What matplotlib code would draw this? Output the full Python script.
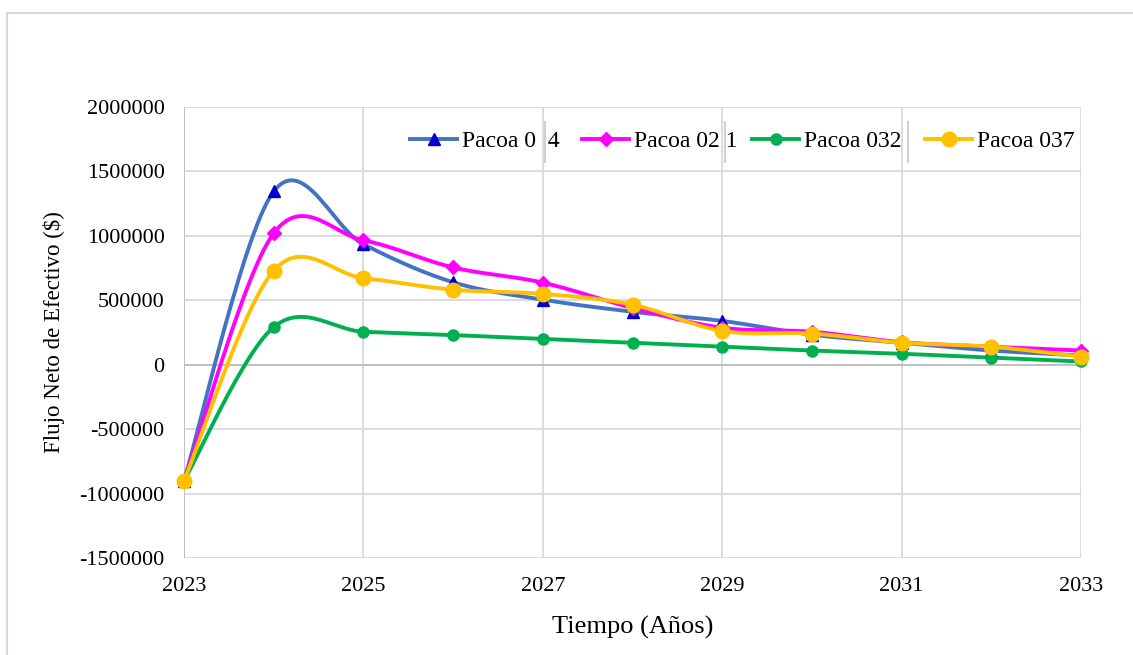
import numpy as np
import matplotlib
matplotlib.use("Agg")
import matplotlib.pyplot as plt
from matplotlib.lines import Line2D
from matplotlib.ticker import FuncFormatter

plt.rcParams['font.family'] = ['Liberation Serif', 'DejaVu Serif']
plt.rcParams['axes.unicode_minus'] = False

years = [2023, 2024, 2025, 2026, 2027, 2028, 2029, 2030, 2031, 2032, 2033]
pacoa_014 = [-900000, 1345000, 935000, 640000, 505000, 411000, 340000, 233000, 170000, 110000, 72000]
pacoa_021 = [-900000, 1020000, 965000, 755000, 637000, 440000, 287000, 256000, 175000, 140000, 110000]
pacoa_032 = [-900000, 292000, 256000, 230000, 200000, 171000, 140000, 110000, 85000, 55000, 25000]
pacoa_037 = [-900000, 730000, 672000, 582000, 550000, 466000, 262000, 242000, 171000, 140000, 62000]
labels = ['Pacoa 0  4', 'Pacoa 02 1', 'Pacoa 032', 'Pacoa 037']


def smooth(x, y, n=30):
    # Excel-style smoothed line: cubic Bezier through points (Catmull-Rom tangents)
    x = np.asarray(x, float)
    y = np.asarray(y, float)
    px, py = [], []
    for i in range(len(x) - 1):
        x0, y0 = (x[i - 1], y[i - 1]) if i > 0 else (x[i], y[i])
        x3, y3 = (x[i + 2], y[i + 2]) if i + 2 < len(x) else (x[i + 1], y[i + 1])
        c1x = x[i] + (x[i + 1] - x0) / 6
        c1y = y[i] + (y[i + 1] - y0) / 6
        c2x = x[i + 1] - (x3 - x[i]) / 6
        c2y = y[i + 1] - (y3 - y[i]) / 6
        t = np.linspace(0, 1, n)
        bx = (1 - t) ** 3 * x[i] + 3 * (1 - t) ** 2 * t * c1x + 3 * (1 - t) * t ** 2 * c2x + t ** 3 * x[i + 1]
        by = (1 - t) ** 3 * y[i] + 3 * (1 - t) ** 2 * t * c1y + 3 * (1 - t) * t ** 2 * c2y + t ** 3 * y[i + 1]
        px.extend(bx)
        py.extend(by)
    return px, py


fig = plt.figure(figsize=(11.33, 6.55), dpi=100)
ax = fig.add_axes([184 / 1133, 1 - 558 / 655, (1081 - 184) / 1133, (558 - 107) / 655])

series = [
    (pacoa_014, '#4472C4', '^', '#0000CC', 9),
    (pacoa_021, '#FF00FF', 'D', '#FF00FF', 7),
    (pacoa_032, '#00B050', 'o', '#00B050', 8),
    (pacoa_037, '#FFC000', 'o', '#FFC000', 10.5),
]
handles = []
for (vals, lc, mk, mc, ms), lab in zip(series, labels):
    sx, sy = smooth(years, vals)
    ax.plot(sx, sy, color=lc, lw=2.8, zorder=3, solid_capstyle='round')
    ax.plot(years, vals, ls='none', marker=mk, color=mc, ms=ms, zorder=4, clip_on=False)
    handles.append(Line2D([], [], color=lc, lw=2.8, marker=mk, mfc=mc, mec=mc, ms=ms))

ax.set_xlim(2023, 2033)
ax.set_ylim(-1500000, 2000000)
ax.set_xticks(range(2023, 2034, 2))
ax.set_yticks(range(-1500000, 2000001, 500000))
ax.yaxis.set_major_formatter(FuncFormatter(lambda v, p: f'{int(v)}'))
ax.grid(True, color='#d9d9d9', lw=1.3)
ax.set_axisbelow(True)
for s in ax.spines.values():
    s.set_visible(False)
ax.axhline(0, color='#bfbfbf', lw=1.3, zorder=1)
ax.axvline(2023, color='#bfbfbf', lw=1.3, zorder=1)
ax.tick_params(axis='x', length=0, labelsize=16, pad=14)
ax.tick_params(axis='y', length=0, labelsize=16, pad=14)
ax.set_xlabel('Tiempo (Años)', fontsize=19, labelpad=14)
ax.set_ylabel('Flujo Neto de Efectivo ($)', fontsize=16.5, labelpad=10)

# legend entries placed one by one, like the reference
starts = [410, 582, 752, 925]
for h, lab, xs in zip(handles, labels, starts):
    fig.legend([h], [lab], frameon=False, fontsize=17, loc='center left',
               bbox_to_anchor=(xs / 1133, 1 - 141 / 655), borderaxespad=0,
               borderpad=0, handlelength=2.0, handletextpad=0.2)

for xs in [545, 725, 908]:
    fig.add_artist(Line2D([xs / 1133, xs / 1133], [1 - 122 / 655, 1 - 162 / 655],
                          color='#d0d0d0', lw=1.5))

# chart frame: only top and left edges are visible
fig.add_artist(Line2D([7 / 1133, 1], [1 - 13 / 655, 1 - 13 / 655], color='#d9d9d9', lw=1.5))
fig.add_artist(Line2D([7 / 1133, 7 / 1133], [0, 1 - 13 / 655], color='#d9d9d9', lw=1.5))

fig.savefig('out.png', dpi=100)
